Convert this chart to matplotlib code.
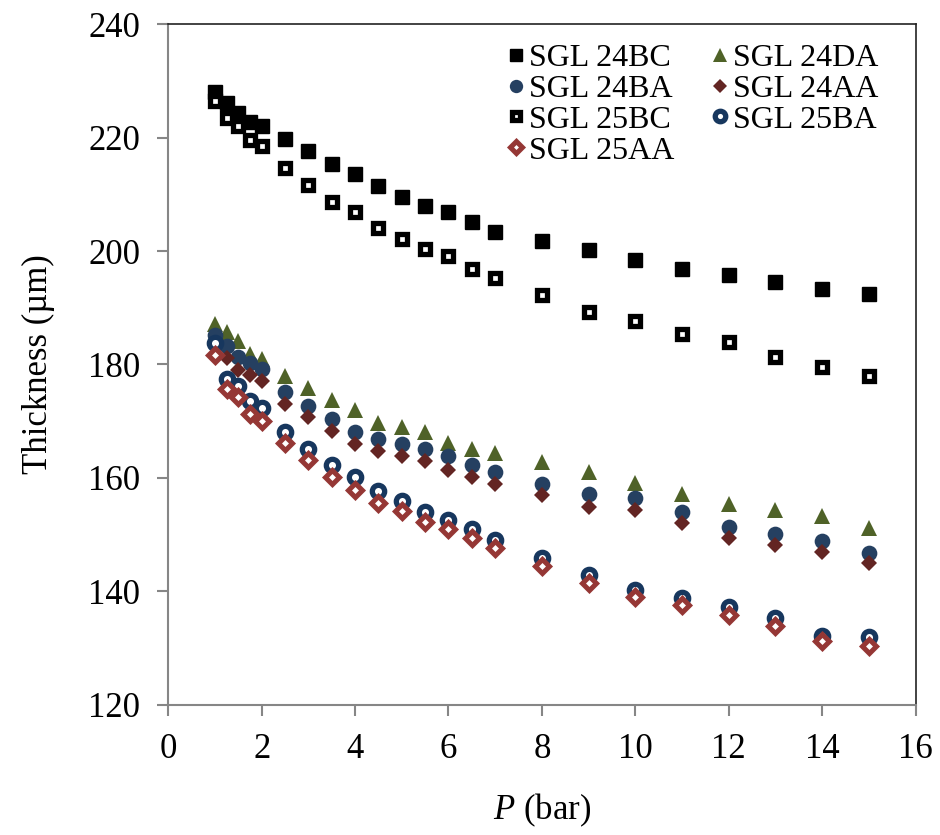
import numpy as np
import matplotlib.pyplot as plt

plt.rcParams['font.family'] = ['Liberation Serif', 'DejaVu Serif']
plt.rcParams['mathtext.fontset'] = 'custom'
plt.rcParams['mathtext.rm'] = 'Liberation Serif'
plt.rcParams['mathtext.it'] = 'Liberation Serif:italic'

# ---- data --------------------------------------------------------------------
P = [1, 1.25, 1.5, 1.75, 2, 2.5, 3, 3.5, 4, 4.5, 5, 5.5, 6, 6.5, 7,
     8, 9, 10, 11, 12, 13, 14, 15]

sgl_24bc = [228.1, 226.1, 224.4, 222.8, 222.1, 219.7, 217.7, 215.4, 213.5, 211.5,
            209.6, 207.9, 206.9, 205.1, 203.3, 201.7, 200.1, 198.5, 196.9, 195.7,
            194.5, 193.3, 192.4]
sgl_24da = [187.2, 185.7, 184.2, 181.9, 181.0, 178.0, 175.8, 173.8, 171.9, 169.7,
            169.0, 168.1, 166.1, 165.1, 164.4, 162.8, 161.1, 159.1, 157.2, 155.4,
            154.3, 153.2, 151.2]
sgl_24ba = [185.2, 183.2, 181.3, 180.3, 179.2, 175.1, 172.7, 170.3, 168.1, 166.9,
            166.0, 165.1, 163.8, 162.3, 161.0, 158.9, 157.2, 156.4, 154.0, 151.4,
            150.1, 148.8, 146.8]
sgl_24aa = [183.4, 181.1, 179.1, 178.2, 177.0, 173.1, 170.7, 168.2, 166.0, 164.8,
            163.8, 162.9, 161.4, 160.2, 159.0, 156.9, 154.9, 154.4, 152.0, 149.4,
            148.2, 147.0, 145.0]
sgl_25bc = [226.5, 223.4, 222.1, 219.5, 218.5, 214.7, 211.7, 208.7, 206.8, 204.1,
            202.2, 200.4, 199.2, 196.8, 195.2, 192.3, 189.2, 187.6, 185.4, 184.0,
            181.4, 179.5, 178.0]
sgl_25ba = [183.7, 177.5, 176.2, 173.5, 172.3, 168.1, 165.1, 162.2, 160.1, 157.7,
            155.9, 153.9, 152.5, 151.0, 149.0, 145.8, 142.8, 140.3, 138.8, 137.2,
            135.3, 132.2, 132.0]
sgl_25aa = [181.6, 175.6, 174.3, 171.3, 170.1, 166.1, 163.1, 160.1, 157.9, 155.6,
            154.1, 152.2, 151.0, 149.4, 147.6, 144.5, 141.5, 139.0, 137.5, 135.8,
            133.9, 131.3, 130.4]

# ---- figure ------------------------------------------------------------------
fig = plt.figure(figsize=(9.4, 8.35), dpi=100)
ax = fig.add_axes([0.179, 0.156, 0.795, 0.815])

h_24bc, = ax.plot(P, sgl_24bc, 's', ms=9.6, color='black', label='SGL 24BC')
h_24da, = ax.plot(P, sgl_24da, '^', ms=11.3, color='#4f6228', mew=0, label='SGL 24DA')
h_24ba, = ax.plot(P, sgl_24ba, 'o', ms=11.3, color='#254061', mew=0, label='SGL 24BA')
h_24aa, = ax.plot(P, sgl_24aa, 'D', ms=8.2, color='#632523', mew=0, label='SGL 24AA')
h_25bc, = ax.plot(P, sgl_25bc, 's', ms=7.6, mfc='white', mec='black', mew=3.8,
                  label='SGL 25BC')
h_25ba, = ax.plot(P, sgl_25ba, 'o', ms=8.9, mfc='white', mec='#17375e', mew=3.8,
                  label='SGL 25BA')
h_25aa, = ax.plot(P, sgl_25aa, 'D', ms=7.0, mfc='white', mec='#953735', mew=3.6,
                  label='SGL 25AA')

ax.set_xlim(0, 16)
ax.set_ylim(120, 240)
ax.set_xticks(range(0, 17, 2))
ax.set_yticks(range(120, 241, 20))

for side in ('left', 'bottom'):
    ax.spines[side].set_color('#868686')
    ax.spines[side].set_linewidth(1.5)
for side in ('top', 'right'):
    ax.spines[side].set_color('#222222')
    ax.spines[side].set_linewidth(1.2)
ax.tick_params(direction='out', length=8, width=1.5, color='#868686',
               labelsize=25, pad=12)

ax.set_xlabel(r'$\mathit{P}$ (bar)', fontsize=25, labelpad=19)
ax.set_ylabel('Thickness (µm)', fontsize=25, labelpad=24)

ax.legend(handles=[h_24bc, h_24ba, h_25bc, h_25aa, h_24da, h_24aa, h_25ba],
          ncol=2, loc='upper right', bbox_to_anchor=(0.976, 1.0),
          frameon=False, fontsize=23, markerscale=0.85,
          handlelength=0.6, handletextpad=0.1, columnspacing=1.15,
          labelspacing=0.05, borderaxespad=0.2)

fig.savefig('out.png', dpi=100)
